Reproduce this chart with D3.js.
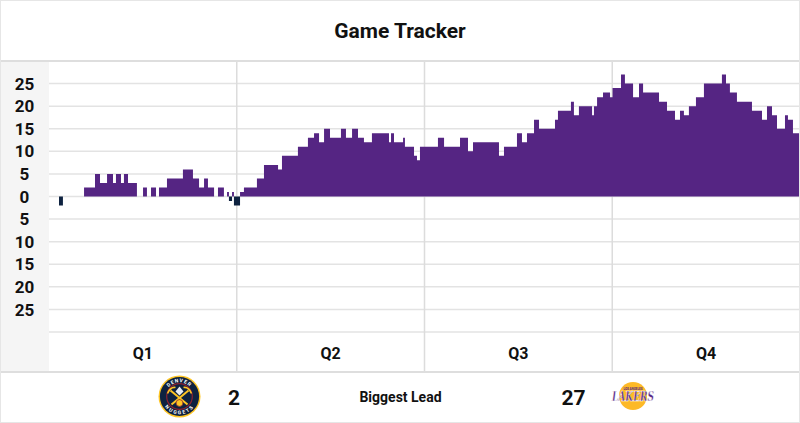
<!DOCTYPE html>
<html>
<head>
<meta charset="utf-8">
<script src="https://cdn.jsdelivr.net/npm/d3@7"></script>
<style>
  body { margin: 0; background: #fff; }
  svg { display: block; font-family: Roboto, "Noto Sans", sans-serif; }
</style>
</head>
<body>
<div id="container"></div>
<script>
/**
 * DATA
 * lead from the Lakers' side: positive = Lakers ahead, negative = Nuggets ahead
 * times are game minutes elapsed (0 - 48), each entry starts a new lead value
 * */
const leadTimes = [
  0, 0.64, 0.89, 2.24, 2.94, 3.26, 3.71, 4.09, 4.28, 4.60, 4.79, 5.05, 5.62, 6.01, 6.26,
  6.52, 6.84, 7.03, 7.54, 8.56, 9.20, 9.59, 9.91, 10.16, 10.55, 10.80, 11.18, 11.38, 11.50,
  11.70, 11.82,
  12.21, 12.46, 13.29, 13.74, 14.64, 14.89, 15.91, 16.55, 16.94, 17.26, 17.58, 17.96, 18.66,
  18.98, 19.37, 19.75, 20.13, 20.64, 21.73, 21.86, 22.05, 22.63, 22.75, 23.33, 23.52, 23.71,
  24.86, 25.25, 26.27, 26.78, 27.10, 28.76, 29.08, 29.91, 30.23, 30.55, 31.00, 31.32, 32.34,
  32.53, 33.36, 33.55, 33.87, 34.71, 34.83, 35.03, 35.41, 35.86,
  36.02, 36.56, 36.81, 37.33, 37.71, 37.97, 38.99, 39.50, 40.01, 40.33, 40.58, 40.90, 41.35,
  41.86, 43.01, 43.27, 43.52, 43.97, 44.93, 45.57, 45.89, 46.21, 46.53, 47.04, 47.23, 47.55
];
const leadValues = [
  0, -2, 0, 2, 5, 3, 5, 3, 5, 3, 5, 3, 0, 2, 0,
  2, 0, 2, 4, 6, 4, 2, 4, 2, 0, 2, 0, 1, -1,
  1, -2,
  1, 2, 4, 7, 6, 9, 11, 13, 14, 12, 15, 13, 15,
  13, 15, 13, 12, 14, 12, 14, 12, 13, 11, 9, 8, 11,
  13, 11, 13, 10, 12, 9, 11, 14, 12, 14, 17, 15, 17,
  19, 21, 18, 20, 18, 20, 22, 23, 22,
  24, 27, 25, 22, 25, 23, 21, 19, 17, 19, 18, 20, 22,
  25, 27, 25, 23, 21, 19, 17, 20, 18, 15, 18, 17, 14
];
const quarters = ["Q1", "Q2", "Q3", "Q4"];
const yTicks = [-25, -20, -15, -10, -5, 0, 5, 10, 15, 20, 25];
const gridValues = [-30, -25, -20, -15, -10, -5, 0, 5, 10, 15, 20, 25, 30];
const biggestLead = { away: 2, home: 27 };

/**
 * CONSTANTS
 * */
const width = 800, height = 423;
const margin = { top: 61, left: 49, right: 0 };
const plotBottom = 332, footTop = 372;
const lakersPurple = "#552583", nuggetsNavy = "#0E2240";
const gridColor = "#e3e3e3";

const svg = d3.select("#container")
  .append("svg")
  .attr("width", width)
  .attr("height", height);

const x = d3.scaleLinear().domain([0, 48]).range([margin.left, width - margin.right]);
const y = d3.scaleLinear().domain([-30, 30]).range([plotBottom, margin.top]);

// title
svg.append("text")
  .attr("x", width / 2)
  .attr("y", 38)
  .attr("text-anchor", "middle")
  .attr("font-size", 21)
  .attr("font-weight", 700)
  .attr("fill", "#111")
  .text("Game Tracker");

// left label column
svg.append("rect")
  .attr("x", 0).attr("y", margin.top)
  .attr("width", margin.left).attr("height", footTop - margin.top)
  .attr("fill", "#f5f5f5");

// horizontal grid
svg.append("g")
  .selectAll("line")
  .data(gridValues)
  .join("line")
  .attr("x1", margin.left).attr("x2", width)
  .attr("y1", d => y(d)).attr("y2", d => y(d))
  .attr("stroke", gridColor)
  .attr("stroke-width", 1.5);

// quarter dividers
const qx = d3.scaleBand().domain(quarters).range([x(0), x(48)]);
svg.append("g")
  .selectAll("line")
  .data(quarters.slice(1))
  .join("line")
  .attr("x1", d => qx(d)).attr("x2", d => qx(d))
  .attr("y1", margin.top).attr("y2", footTop)
  .attr("stroke", "#dcdcdc")
  .attr("stroke-width", 1.5);

// lead data -> step series
const series = leadTimes.map((t, i) => ({ t: t, v: leadValues[i] }));
series.push({ t: 48, v: leadValues[leadValues.length - 1] });

const areaPos = d3.area()
  .curve(d3.curveStepAfter)
  .x(d => x(d.t))
  .y0(y(0))
  .y1(d => y(Math.max(0, d.v)));

const areaNeg = d3.area()
  .curve(d3.curveStepAfter)
  .x(d => x(d.t))
  .y0(y(0))
  .y1(d => y(Math.min(0, d.v)));

svg.append("path")
  .datum(series)
  .attr("d", areaPos)
  .attr("fill", lakersPurple);

svg.append("path")
  .datum(series)
  .attr("d", areaNeg)
  .attr("fill", nuggetsNavy);

// y labels (absolute lead)
svg.append("g")
  .selectAll("text")
  .data(yTicks)
  .join("text")
  .attr("x", 24.5)
  .attr("y", d => y(d))
  .attr("dy", "0.36em")
  .attr("text-anchor", "middle")
  .attr("font-size", 17)
  .attr("font-weight", 700)
  .attr("fill", "#111")
  .text(d => Math.abs(d));

// quarter labels
svg.append("g")
  .selectAll("text")
  .data(quarters)
  .join("text")
  .attr("x", d => qx(d) + qx.bandwidth() / 2)
  .attr("y", 359)
  .attr("text-anchor", "middle")
  .attr("font-size", 16)
  .attr("font-weight", 700)
  .attr("fill", "#111")
  .text(d => d);

// separators + card border
svg.append("line")
  .attr("x1", 0).attr("x2", width)
  .attr("y1", margin.top).attr("y2", margin.top)
  .attr("stroke", "#dedede").attr("stroke-width", 2);
svg.append("line")
  .attr("x1", 0).attr("x2", width)
  .attr("y1", footTop).attr("y2", footTop)
  .attr("stroke", "#dedede").attr("stroke-width", 2);
svg.append("rect")
  .attr("x", 0.5).attr("y", 0.5)
  .attr("width", width - 1).attr("height", height - 1)
  .attr("fill", "none")
  .attr("stroke", "#e6e6e6");

/**
 * FOOTER - biggest lead
 * */
const foot = svg.append("g");
foot.append("text")
  .attr("x", 400.5).attr("y", 402)
  .attr("text-anchor", "middle")
  .attr("font-size", 14)
  .attr("font-weight", 700)
  .attr("fill", "#111")
  .text("Biggest Lead");
foot.append("text")
  .attr("x", 234).attr("y", 405)
  .attr("text-anchor", "middle")
  .attr("font-size", 21)
  .attr("font-weight", 700)
  .attr("fill", "#111")
  .text(biggestLead.away);
foot.append("text")
  .attr("x", 573.5).attr("y", 405)
  .attr("text-anchor", "middle")
  .attr("font-size", 21)
  .attr("font-weight", 700)
  .attr("fill", "#111")
  .text(biggestLead.home);

// nuggets badge (simplified)
const den = foot.append("g").attr("transform", "translate(179.5,396.5)");
den.append("circle").attr("r", 21).attr("fill", "#FEC524");
den.append("circle").attr("r", 19.6).attr("fill", nuggetsNavy);
den.append("circle").attr("r", 12.8).attr("fill", nuggetsNavy)
  .attr("stroke", "#8B2131").attr("stroke-width", 1.2);
den.append("path").attr("id", "denTop")
  .attr("d", "M-16,0 A16,16 0 0 1 16,0").attr("fill", "none");
den.append("path").attr("id", "denBot")
  .attr("d", "M-16,0 A16,16 0 0 0 16,0").attr("fill", "none");
den.append("text").attr("font-size", 5).attr("font-weight", 700).attr("fill", "#fff")
  .attr("dy", "1.8")
  .append("textPath").attr("href", "#denTop").attr("startOffset", "50%")
  .attr("text-anchor", "middle").attr("letter-spacing", 1.4).text("DENVER");
den.append("text").attr("font-size", 5).attr("font-weight", 700).attr("fill", "#fff")
  .attr("dy", "1.8")
  .append("textPath").attr("href", "#denBot").attr("startOffset", "50%")
  .attr("text-anchor", "middle").attr("letter-spacing", 1.2).text("NUGGETS");
den.append("line").attr("x1", -9).attr("y1", -6).attr("x2", 8).attr("y2", 8)
  .attr("stroke", "#FEC524").attr("stroke-width", 2);
den.append("line").attr("x1", 9).attr("y1", -6).attr("x2", -8).attr("y2", 8)
  .attr("stroke", "#FEC524").attr("stroke-width", 2);
den.append("path").attr("d", "M-12,-3 Q-9,-10 -4,-9").attr("fill", "none")
  .attr("stroke", "#FEC524").attr("stroke-width", 1.6);
den.append("path").attr("d", "M12,-3 Q9,-10 4,-9").attr("fill", "none")
  .attr("stroke", "#FEC524").attr("stroke-width", 1.6);
den.append("path").attr("d", "M0,-10 L4,-5 L0,-1 L-4,-5 Z").attr("fill", "#e8edf3");
den.append("circle").attr("cx", 0).attr("cy", 6.5).attr("r", 3.4)
  .attr("fill", "#FEC524").attr("stroke", "#8B2131").attr("stroke-width", 0.7);

// lakers badge (simplified)
const lal = foot.append("g").attr("transform", "translate(633,396)");
lal.append("circle").attr("r", 14).attr("fill", "#FDB927");
lal.append("text")
  .attr("y", 4.5)
  .attr("text-anchor", "middle")
  .attr("font-family", "'DejaVu Serif', serif")
  .attr("font-style", "italic")
  .attr("font-weight", 700)
  .attr("font-size", 12)
  .attr("textLength", 42)
  .attr("lengthAdjust", "spacingAndGlyphs")
  .attr("fill", lakersPurple)
  .attr("stroke", "#fff")
  .attr("stroke-width", 0.4)
  .text("LAKERS");
lal.append("text")
  .attr("y", -6)
  .attr("text-anchor", "middle")
  .attr("font-size", 3)
  .attr("font-weight", 700)
  .attr("fill", lakersPurple)
  .text("LOS ANGELES");
</script>
</body>
</html>
